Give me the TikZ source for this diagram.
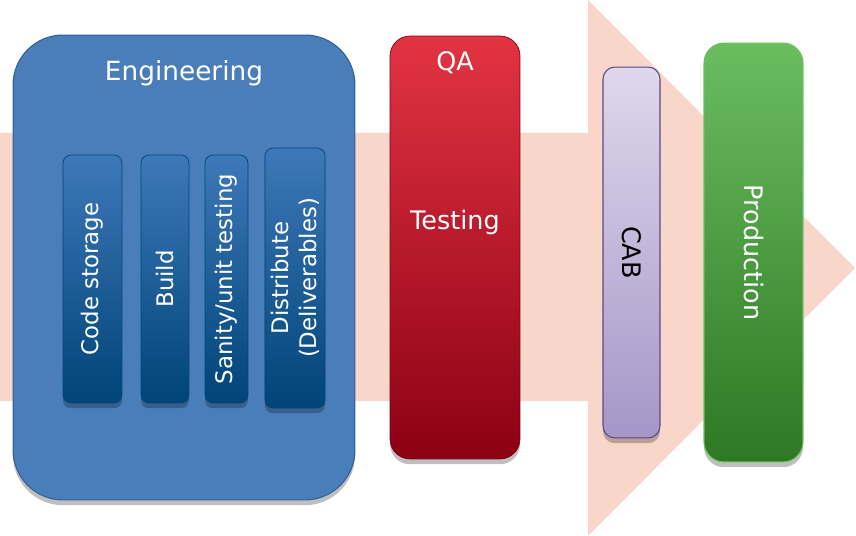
\documentclass[tikz,border=0pt]{standalone}
\usepackage{fontspec}
\setmainfont{DejaVu Sans}
\usetikzlibrary{shadows}
\definecolor{flowPink}{RGB}{248,214,202}
\definecolor{engBlue}{RGB}{74,126,187}
\definecolor{engEdge}{RGB}{50,94,148}
\definecolor{stageTop}{RGB}{62,120,184}
\definecolor{stageMid}{RGB}{14,84,142}
\definecolor{stageBottom}{RGB}{0,68,120}
\definecolor{qaTop}{RGB}{226,52,66}
\definecolor{qaBottom}{RGB}{140,0,20}
\definecolor{cabTop}{RGB}{222,216,236}
\definecolor{cabBottom}{RGB}{166,150,200}
\definecolor{cabEdge}{RGB}{92,72,134}
\definecolor{prodTop}{RGB}{106,190,94}
\definecolor{prodBottom}{RGB}{46,120,36}
\definecolor{prodEdge}{RGB}{110,190,100}

\tikzset{
  softshadow/.style={drop shadow={shadow xshift=0pt, shadow yshift=-3pt, opacity=0.25, fill=black}},
  stage/.style={rotate=90, draw=stageBottom, line width=0.4pt, top color=stageTop, middle color=stageMid, bottom color=stageBottom,
    rounded corners=0.16cm, text=white, align=center, font=\fontsize{13}{16}\selectfont, softshadow},
  bigtext/.style={text=white, font=\fontsize{14.5}{17}\selectfont},
}

\begin{document}
\begin{tikzpicture}[x=0.02cm, y=-0.02cm]
  \useasboundingbox (0,0) rectangle (856,536);
  % the flow arrow behind everything
  \fill[flowPink] (0,133) -- (588,133) -- (588,0) -- (855,268) -- (588,536) -- (588,401) -- (0,401) -- cycle;

  % engineering
  \node[fill=engBlue, draw=engEdge, line width=0.6pt, rounded corners=1cm, minimum width=6.84cm, minimum height=9.3cm, softshadow] (eng) at (184,267.5) {};
  \node[bigtext, font=\fontsize{15}{18}\selectfont] (englabel) at (184,73) {Engineering};
  \node[stage, minimum width=4.96cm, minimum height=1.18cm] (code) at (92.5,279) {Code storage};
  \node[stage, minimum width=4.96cm, minimum height=0.96cm] (build) at (165,279) {Build};
  \node[stage, minimum width=4.96cm, minimum height=0.86cm] (sanity) at (226.5,279) {Sanity/unit testing};
  \node[stage, minimum width=5.2cm, minimum height=1.12cm] (dist) at (295,278) {Distribute\\(Deliverables)};

  % qa
  \node[top color=qaTop, bottom color=qaBottom, draw=qaBottom!90!black, line width=0.4pt, rounded corners=0.4cm, minimum width=2.6cm, minimum height=8.46cm, softshadow] (qa) at (455,247.5) {};
  \node[bigtext] (qalabel) at (455,63) {QA};
  \node[bigtext] (testing) at (455,222) {Testing};

  % cab
  \node[rotate=-90, top color=cabTop, bottom color=cabBottom, draw=cabEdge, line width=0.6pt, rounded corners=0.24cm, minimum width=7.42cm, minimum height=1.14cm, font=\fontsize{14.5}{17}\selectfont, softshadow] (cab) at (631.5,252.5) {CAB};

  % production
  \node[rotate=-90, top color=prodTop, bottom color=prodBottom, draw=prodEdge, line width=0.6pt, rounded corners=0.4cm, minimum width=8.38cm, minimum height=1.98cm, bigtext, softshadow] (prod) at (753.5,252.5) {Production};
\end{tikzpicture}
\end{document}
